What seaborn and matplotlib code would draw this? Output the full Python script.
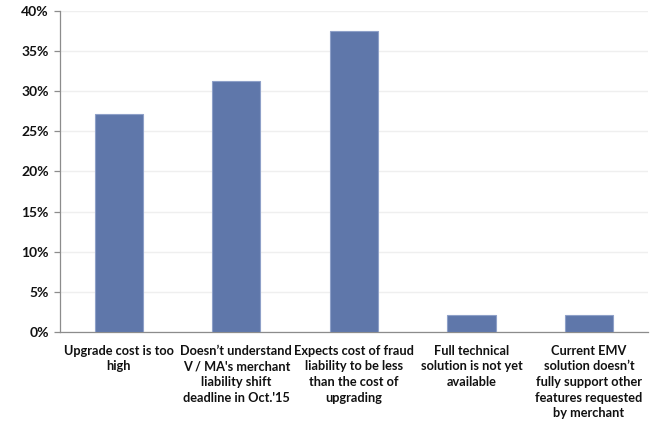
import matplotlib
matplotlib.use("Agg")
import matplotlib.pyplot as plt
import seaborn as sns
import pandas as pd
from matplotlib.ticker import PercentFormatter, FixedLocator

categories = [
    "Upgrade cost is too\nhigh",
    "Doesn\u2019t understand\nV / MA's merchant\nliability shift\ndeadline in Oct.'15",
    "Expects cost of fraud\nliability to be less\nthan the cost of\nupgrading",
    "Full technical\nsolution is not yet\navailable",
    "Current EMV\nsolution doesn\u2019t\nfully support other\nfeatures requested\nby merchant",
]
shares = [27.1, 31.3, 37.5, 2.1, 2.1]
y_ticks = [0, 5, 10, 15, 20, 25, 30, 35, 40]

df = pd.DataFrame({"reason": categories, "share": shares})

sns.set_theme(style="white")
plt.rcParams["font.family"] = ["Lato", "DejaVu Sans"]

fig = plt.figure(figsize=(6.62, 4.36), dpi=100)
ax = fig.add_axes([0.0906, 0.2385, 0.888, 0.7365])

sns.barplot(data=df, x="reason", y="share", color="#5F77AA", saturation=1,
            width=0.41, edgecolor="#8EA0C8", linewidth=0.8, ax=ax, zorder=3)

ax.set_ylim(0, 40)
ax.set_xlim(-0.5, len(categories) - 0.5)
ax.yaxis.set_major_locator(FixedLocator(y_ticks))
ax.yaxis.set_major_formatter(PercentFormatter(decimals=0))
ax.grid(axis="y", color="#EFEFEF", linewidth=1, zorder=0)
ax.set_xlabel("")
ax.set_ylabel("")

for side in ["top", "right"]:
    ax.spines[side].set_visible(False)
for side in ["left", "bottom"]:
    ax.spines[side].set_color("#8C8C8C")
    ax.spines[side].set_linewidth(0.9)

# category boundaries carry the x ticks
ax.set_xticks(range(len(categories)))
ax.set_xticklabels(categories, fontsize=9.2, fontweight="bold", linespacing=1.37,
                   va="top", ha="center", color="#111111")
ax.tick_params(axis="x", length=0, pad=9)
ax.set_xticks([i + 0.5 for i in range(len(categories))], minor=True)
ax.tick_params(axis="x", which="minor", length=4, color="#8C8C8C", width=0.9)
ax.tick_params(axis="y", length=4, color="#8C8C8C", width=0.9, left=True,
               labelsize=10, pad=4, labelcolor="#111111")
for lbl in ax.get_yticklabels():
    lbl.set_fontweight("bold")

fig.savefig("out.png", dpi=100, facecolor="white")
